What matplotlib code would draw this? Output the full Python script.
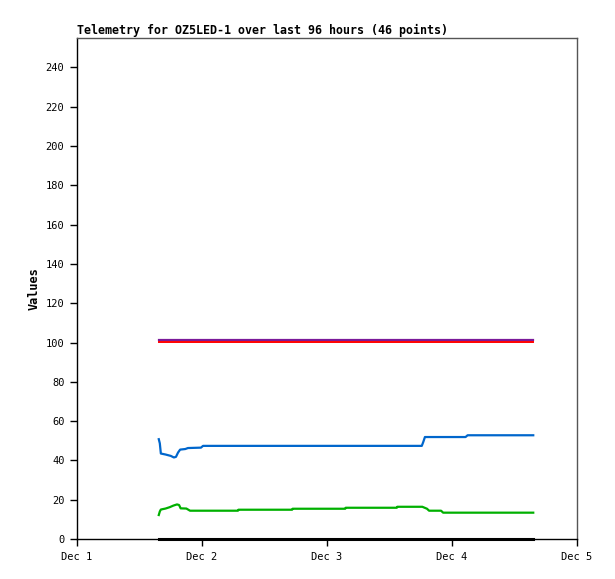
import matplotlib
matplotlib.use("Agg")
import matplotlib.pyplot as plt

# hours since Dec 1 00:00
blue_t = [15.7, 15.9, 16.1, 17.0, 18.0, 18.6, 19.0, 19.4, 19.8, 20.8, 21.3, 23.8, 24.2,
          66.2, 66.5, 66.8, 74.6, 75.0, 87.6]
blue_v = [50.8, 48.7, 43.5, 43.0, 42.3, 41.5, 41.8, 44.0, 45.5, 45.8, 46.3, 46.5, 47.4,
          47.4, 49.5, 51.9, 51.9, 52.8, 52.8]

green_t = [15.7, 15.9, 16.1, 17.0, 17.8, 18.5, 19.2, 19.6, 19.9, 21.0, 21.7, 30.9, 31.0,
           41.3, 41.4, 51.5, 51.6, 61.4, 61.5, 66.3, 67.2, 67.6, 69.9, 70.3, 87.6]
green_v = [12.2, 14.0, 15.0, 15.5, 16.2, 17.0, 17.6, 17.3, 15.6, 15.5, 14.4, 14.4, 14.9,
           14.9, 15.4, 15.4, 15.9, 15.9, 16.4, 16.4, 15.4, 14.4, 14.4, 13.4, 13.4]

flat_t = [15.7, 87.6]
purple_v = [101.2, 101.2]
red_v = [100.2, 100.2]
black_v = [0, 0]

day_ticks = [0, 24, 48, 72, 96]
day_labels = ["Dec 1", "Dec 2", "Dec 3", "Dec 4", "Dec 5"]
y_ticks = list(range(0, 241, 20))

plt.rcParams['font.family'] = 'DejaVu Sans Mono'

fig = plt.figure(figsize=(6.15, 5.79), dpi=100)
ax = fig.add_axes([77/615, 40/579, 500/615, 501/579])

ax.plot(green_t, green_v, color='#00b000', lw=1.6)
ax.plot(blue_t, blue_v, color='#0066cc', lw=1.6)
ax.plot(flat_t, purple_v, color='#7a1a9a', lw=1.6)
ax.plot(flat_t, red_v, color='#ff0000', lw=1.4)
ax.plot(flat_t, black_v, color='black', lw=2.2, clip_on=False)

ax.set_xlim(0, 96)
ax.set_ylim(0, 255)
ax.set_xticks(day_ticks)
ax.set_xticklabels(day_labels)
ax.set_yticks(y_ticks)
ax.tick_params(labelsize=7.5, length=5, width=1, direction='out', pad=4)

for s in ['left', 'bottom']:
    ax.spines[s].set_color('black')
    ax.spines[s].set_linewidth(1)
for s in ['top', 'right']:
    ax.spines[s].set_color('#555555')
    ax.spines[s].set_linewidth(1)

ax.set_title('Telemetry for OZ5LED-1 over last 96 hours (46 points)',
             loc='left', fontsize=8.4, fontweight='bold', pad=3)
ax.set_ylabel('Values', fontsize=8.6, fontweight='bold', labelpad=4)

fig.savefig('out.png', dpi=100)
